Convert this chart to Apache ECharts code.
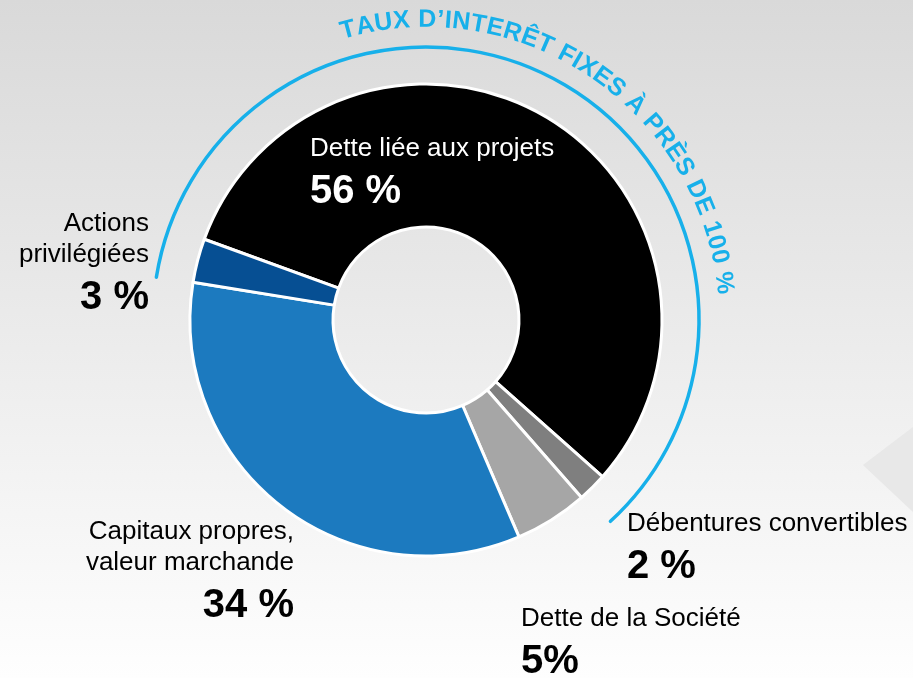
<!DOCTYPE html>
<html>
<head>
<meta charset="utf-8">
<script src="https://cdn.jsdelivr.net/npm/echarts@6/dist/echarts.min.js"></script>
<style>
  html, body { margin: 0; padding: 0; }
  #chart { width: 913px; height: 678px; }
</style>
</head>
<body>
<div id="chart"></div>
<script>
// données du graphique
const categories = ['Dette liée aux projets', 'Débentures convertibles', 'Dette de la Société', 'Capitaux propres,\nvaleur marchande', 'Actions\nprivilégiées']
const shares = [56, 2, 5, 34, 3]
const shareLabels = ['56 %', '2 %', '5%', '34 %', '3 %']
const arcTitle = 'TAUX D\u2019INTERÊT FIXES À PRÈS DE 100 %'

const colors = ['#000000', '#7f7f7f', '#a6a6a6', '#1c7abf', '#064f93']
const FONT = 'Liberation Sans, Arial, Helvetica, sans-serif'
const BLUE = '#17b0ea'

// position des étiquettes (coin haut, alignement horizontal)
const labelSpots = [
  { x: 310, y: 133, align: 'left', color: '#ffffff' },
  { x: 627, y: 508, align: 'left', color: '#000000' },
  { x: 521, y: 603, align: 'left', color: '#000000' },
  { x: 294, y: 516, align: 'right', color: '#000000' },
  { x: 149, y: 208, align: 'right', color: '#000000' }
]

const cx = 426
const cy = 320

/**
 * texte courbé le long de l'arc bleu, une lettre par élément
 */
function curvedText (text, radius, fromDeg, toDeg, size) {
  const font = 'bold ' + size + 'px ' + FONT
  const ctx = document.createElement('canvas').getContext('2d')
  ctx.font = font
  const chars = Array.from(text)
  const widths = chars.map(c => ctx.measureText(c).width)
  const total = widths.reduce((a, b) => a + b, 0)
  const span = (toDeg + 360 - fromDeg) % 360 * Math.PI / 180 * radius
  const gap = (span - total) / (chars.length - 1)
  let pos = 0
  return chars.map((c, i) => {
    const mid = pos + widths[i] / 2
    pos += widths[i] + gap
    const a = fromDeg * Math.PI / 180 + mid / radius
    return {
      type: 'text',
      x: cx + radius * Math.sin(a),
      y: cy - radius * Math.cos(a),
      rotation: -a,
      silent: true,
      style: {
        text: c,
        fill: BLUE,
        font: font,
        align: 'center',
        verticalAlign: 'middle'
      }
    }
  })
}

const chart = echarts.init(document.getElementById('chart'))

const data = categories.map((name, i) => ({
  name: name,
  value: shares[i],
  itemStyle: { color: colors[i] },
  label: {
    formatter: name.split('\n').map(l => '{n' + labelSpots[i].align[0] + '|' + l + '}').join('\n') +
      '\n{v' + labelSpots[i].align[0] + '|' + shareLabels[i] + '}',
    color: labelSpots[i].color
  }
}))

const rich = {}
;['l', 'r'].forEach(s => {
  const align = s === 'l' ? 'left' : 'right'
  rich['n' + s] = { fontSize: 26, lineHeight: 31, fontFamily: FONT, align: align }
  rich['v' + s] = { fontSize: 40, lineHeight: 56, fontWeight: 'bold', fontFamily: FONT, align: align }
})

chart.setOption({
  animation: false,
  backgroundColor: {
    type: 'linear', x: 0, y: 0, x2: 0, y2: 1,
    colorStops: [{ offset: 0, color: '#d9d9d9' }, { offset: 1, color: '#fefefe' }]
  },
  graphic: [
    {
      type: 'polygon',
      silent: true,
      shape: { points: [[863, 465], [913, 427], [913, 512]] },
      style: { fill: '#e8e8e8' }
    },
    {
      type: 'arc',
      silent: true,
      shape: { cx: cx, cy: cy, r: 273, startAngle: 189 * Math.PI / 180, endAngle: 407.5 * Math.PI / 180, clockwise: true },
      style: { stroke: BLUE, lineWidth: 3.5, fill: null, lineCap: 'round' }
    }
  ].concat(curvedText(arcTitle, 300, 343.5, 85, 25)),
  series: [{
    type: 'pie',
    center: [cx, cy],
    radius: [93, 236],
    startAngle: 160,
    clockwise: true,
    silent: true,
    data: data,
    itemStyle: { borderColor: '#ffffff', borderWidth: 3 },
    label: {
      show: true,
      position: 'outside',
      overflow: 'none',
      fontFamily: FONT,
      rich: rich
    },
    labelLine: { show: false },
    labelLayout: function (params) {
      const spot = labelSpots[params.dataIndex]
      return { x: spot.x, y: spot.y, align: spot.align, verticalAlign: 'top' }
    }
  }]
})
</script>
</body>
</html>
